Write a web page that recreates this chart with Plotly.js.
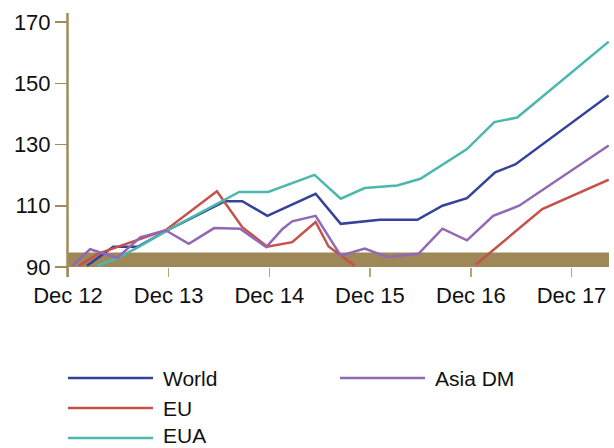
<!DOCTYPE html>
<html>
<head>
<meta charset="utf-8">
<script src="https://cdn.plot.ly/plotly-3.0.1.min.js"></script>
<style>html,body{margin:0;padding:0;background:#fff}#chart{width:614px;height:448px}</style>
</head>
<body>
<div id="chart"></div>
<script>
// ---- data ----
var tickDates = ['2012-12-15','2013-12-15','2014-12-15','2015-12-15','2016-12-15','2017-12-15'];
var tickLabels = ['Dec 12','Dec 13','Dec 14','Dec 15','Dec 16','Dec 17'];
var yTicks = [90, 110, 130, 150, 170];

var worldDates = ['2013-02-22','2013-05-28','2013-08-24','2013-12-15','2014-07-08','2014-09-08','2014-12-08','2015-06-01','2015-08-31','2016-01-20','2016-06-04','2016-09-03','2016-12-01','2017-03-13','2017-05-25','2018-04-29'];
var worldValues = [90.4, 96.6, 96.6, 102.2, 111.5, 111.5, 106.7, 113.9, 104.1, 105.4, 105.4, 110.0, 112.5, 120.9, 123.5, 146.0];

var euDates = ['2013-01-24','2013-04-04','2013-12-04','2014-06-08','2014-09-08','2014-12-08','2015-03-08','2015-06-01','2015-07-18','2015-08-31','2015-10-21','2016-06-15','2017-01-02','2017-08-31','2018-04-29'];
var euValues = [90.4, 94.4, 102.0, 114.7, 103.0, 96.6, 98.1, 104.7, 96.7, 93.7, 90.4, null, 90.8, 108.9, 118.5];

var euaDates = ['2013-03-31','2013-06-12','2013-08-27','2013-12-15','2014-08-28','2014-12-11','2015-05-28','2015-08-31','2015-11-26','2016-03-23','2016-06-15','2016-12-01','2017-03-10','2017-06-01','2018-04-29'];
var euaValues = [90.4, 92.9, 96.5, 102.2, 114.5, 114.5, 120.1, 112.3, 115.8, 116.6, 118.8, 128.5, 137.3, 138.8, 163.6];

var asiaDates = ['2012-12-30','2013-03-05','2013-06-12','2013-09-03','2013-12-04','2014-02-26','2014-05-29','2014-08-31','2014-12-04','2015-02-01','2015-03-08','2015-06-01','2015-08-31','2015-11-26','2016-02-15','2016-06-08','2016-09-03','2016-12-01','2017-03-06','2017-06-08','2018-04-29'];
var asiaValues = [90.4, 95.8, 93.0, 99.7, 102.0, 97.6, 102.7, 102.5, 96.5, 102.4, 104.9, 106.7, 93.7, 96.0, 93.3, 94.3, 102.5, 98.7, 106.7, 110.0, 129.7];

var seriesNames = ['World', 'EU', 'EUA', 'Asia DM'];
var seriesColors = ['#34429a', '#c6514a', '#4bb8ae', '#9168b4'];

// ---- layout geometry ----
var W = 614, H = 448;
var M = {l: 68, r: 5, t: 22, b: 181};
var plotW = W - M.l - M.r, plotH = H - M.t - M.b;
function px2paperX(px) { return (px - M.l) / plotW; }
function px2paperY(py) { return (H - M.b - py) / plotH; }

var font = 'Liberation Sans, Arial, Helvetica, sans-serif';
var gold = '#a08c5c';

var xs = [worldDates, euDates, euaDates, asiaDates];
var ys = [worldValues, euValues, euaValues, asiaValues];
var traces = seriesNames.map(function (n, i) {
  return {
    type: 'scatter', mode: 'lines', name: n,
    x: xs[i], y: ys[i], connectgaps: false,
    line: {color: seriesColors[i], width: 2.5},
    hoverinfo: 'skip'
  };
});

var shapes = [
  // brown band at bottom
  {type: 'rect', layer: 'below', xref: 'paper', yref: 'y', x0: 0, x1: 1, y0: 89.6, y1: 94.7,
   fillcolor: '#9e8857', line: {width: 0}},
  // y axis line (extends past plot)
  {type: 'line', xref: 'paper', yref: 'paper', x0: px2paperX(67.5), x1: px2paperX(67.5),
   y0: px2paperY(277), y1: px2paperY(13), line: {color: gold, width: 2.5}}
];

// manual legend (line sample + label)
var legendItems = [
  {i: 0, lx0: 68, lx1: 153, tx: 162, py: 378, anchor: 'middle', ty: 378},
  {i: 1, lx0: 68, lx1: 153, tx: 162, py: 408, anchor: 'middle', ty: 408},
  {i: 2, lx0: 68, lx1: 153, tx: 162, py: 438, anchor: 'bottom', ty: 447.5},
  {i: 3, lx0: 340, lx1: 425, tx: 434, py: 378, anchor: 'middle', ty: 378}
];
var annotations = [];
legendItems.forEach(function (it) {
  shapes.push({type: 'line', xref: 'paper', yref: 'paper',
    x0: px2paperX(it.lx0), x1: px2paperX(it.lx1), y0: px2paperY(it.py), y1: px2paperY(it.py),
    line: {color: seriesColors[it.i], width: 2.5}});
  annotations.push({xref: 'paper', yref: 'paper', x: px2paperX(it.tx), y: px2paperY(it.ty),
    xanchor: 'left', yanchor: it.anchor, showarrow: false, text: seriesNames[it.i],
    borderpad: 0, font: {family: font, size: 21, color: '#111'}});
});

var layout = {
  width: W, height: H,
  margin: M,
  paper_bgcolor: '#fff', plot_bgcolor: '#fff',
  showlegend: false,
  font: {family: font, size: 22, color: '#111'},
  xaxis: {
    type: 'date', range: ['2012-12-15', '2018-04-30'],
    tickmode: 'array', tickvals: tickDates, ticktext: tickLabels,
    ticks: 'outside', ticklen: 9, tickwidth: 1.5, tickcolor: '#b8a478',
    showgrid: false, zeroline: false, showline: false,
    tickfont: {family: font, size: 22, color: '#111'}
  },
  yaxis: {
    range: [90, 170], tickmode: 'array', tickvals: yTicks,
    ticks: 'outside', ticklen: 12, tickwidth: 1.5, tickcolor: gold,
    showgrid: false, zeroline: false, showline: false,
    tickfont: {family: font, size: 22, color: '#111'}
  },
  shapes: shapes,
  annotations: annotations
};

Plotly.newPlot('chart', traces, layout, {staticPlot: true, displayModeBar: false});
</script>
</body>
</html>
